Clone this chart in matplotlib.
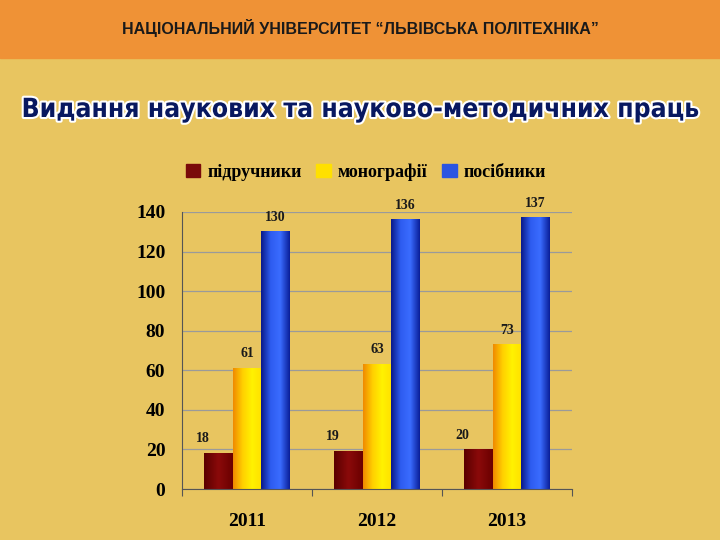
import matplotlib
matplotlib.use("Agg")
import matplotlib.pyplot as plt
import matplotlib.patheffects as pe
import numpy as np
from matplotlib.colors import LinearSegmentedColormap

years = ["2011", "2012", "2013"]
textbooks = [18, 19, 20]
monographs = [61, 63, 73]
manuals = [130, 136, 137]
series_names = ["підручники", "монографії", "посібники"]

BG = "#E8C560"
fig = plt.figure(figsize=(7.2, 5.4), dpi=100, facecolor=BG)

# top banner
fig.patches.append(plt.Rectangle((0, 1 - 58 / 540), 1, 58 / 540, transform=fig.transFigure,
                                 color="#EF9236", zorder=0))
fig.text(0.5, 1 - 28 / 540, "НАЦІОНАЛЬНИЙ УНІВЕРСИТЕТ “ЛЬВІВСЬКА ПОЛІТЕХНІКА”",
         ha="center", va="center", fontsize=11.5, fontweight="bold", color="#1a1a1a",
         family="Liberation Sans")
fig.text(0.5, 1 - 110 / 540, "Видання наукових та науково-методичних праць",
         ha="center", va="center", fontsize=19, fontweight="bold", color="#081860",
         family="DejaVu Sans", fontstretch="condensed",
         path_effects=[pe.withStroke(linewidth=3, foreground="white")])

ax = fig.add_axes([182 / 720, 1 - 489 / 540, 390 / 720, 277 / 540])
ax.set_facecolor(BG)
ax.yaxis.grid(True, color="#9a9a9a", linewidth=0.9)
ax.set_axisbelow(True)
for s in ["top", "right"]:
    ax.spines[s].set_visible(False)
ax.spines["left"].set_color("#555")
ax.spines["bottom"].set_color("#555")
ax.set_xticks([-0.5, 0.5, 1.5, 2.5])
ax.set_xticklabels([])
ax.tick_params(axis="x", length=5, color="#555")
ax.tick_params(axis="y", length=0, labelsize=14, pad=12)
x = np.arange(len(years))
for xi, y in zip(x, years):
    ax.text(xi, -12, y, ha="center", va="top", fontsize=14, fontweight="bold",
            family="Liberation Serif")

w = 0.22
cmaps = [
    LinearSegmentedColormap.from_list("r", ["#5a0000", "#8B0a0a", "#6a0000"]),
    LinearSegmentedColormap.from_list("y", ["#F08A00", "#FFD000", "#FFF200", "#FFE000"]),
    LinearSegmentedColormap.from_list("b", ["#0A1A8A", "#2E5CF0", "#3A6CFF", "#0A1F9A"]),
]
solid = ["#7A0A0A", "#FFE000", "#2B55E0"]
grad = np.linspace(0, 1, 64).reshape(1, -1)
handles = []
for i, (vals, cm) in enumerate(zip([textbooks, monographs, manuals], cmaps)):
    bars = ax.bar(x + (i - 1) * w, vals, w, color="none", edgecolor="none", zorder=2)
    handles.append(plt.Rectangle((0, 0), 1, 1, color=solid[i]))
    for b, v in zip(bars, vals):
        x0 = b.get_x()
        ax.imshow(grad, cmap=cm, aspect="auto", zorder=2,
                  extent=(x0, x0 + b.get_width(), 0, b.get_height()))
        ax.text(x0 + b.get_width() / 2 - (0.12 if i == 0 else 0), v + 4, str(v),
                ha="center", va="bottom", fontsize=10, fontweight="bold",
                family="Liberation Serif", color="#1a1a1a")
ax.set_xlim(-0.5, 2.5)
ax.set_ylim(0, 140)
ax.set_yticks(range(0, 141, 20))
for lab in ax.get_yticklabels():
    lab.set_fontweight("bold")
    lab.set_family("Liberation Serif")

fig.legend(handles, series_names, loc="center", bbox_to_anchor=(366 / 720, 1 - 172 / 540),
           ncol=3, frameon=False, prop={"family": "Liberation Serif", "weight": "bold", "size": 13},
           handlelength=0.8, handleheight=0.8, handletextpad=0.4, columnspacing=0.8)

fig.savefig("out.png", dpi=100, facecolor=BG)
